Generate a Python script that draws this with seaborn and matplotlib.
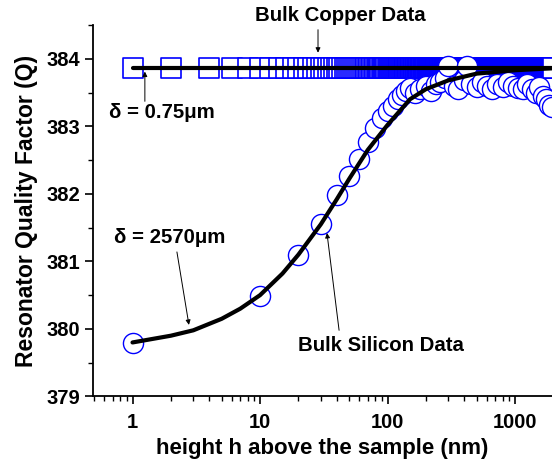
import numpy as np
import pandas as pd
import matplotlib
matplotlib.use("Agg")
import matplotlib.pyplot as plt
import seaborn as sns

# ---------------- data ----------------
# Bulk copper: measured every 2 nm (after 1, 2 nm), Q constant
copper_h = np.concatenate([[1, 2], np.arange(4, 2001, 2)])
copper_q_value = 383.86

# Bulk silicon data points
silicon_h = [1, 10, 20, 30, 40, 50, 60, 70, 80, 90, 100, 110, 120, 130, 140,
             150, 165, 180, 200, 220, 240, 260, 280, 300, 330, 360, 400, 420,
             450, 500, 550, 600, 660, 720, 800, 880, 960, 1050, 1150, 1250,
             1350, 1450, 1550, 1650, 1750, 1850, 1950]
silicon_q = [379.79, 380.49, 381.10, 381.55, 381.99, 382.27, 382.52, 382.77,
             382.97, 383.12, 383.22, 383.30, 383.40, 383.47, 383.52, 383.56,
             383.50, 383.55, 383.60, 383.53, 383.62, 383.66, 383.72, 383.90,
             383.60, 383.55, 383.68, 383.90, 383.62, 383.58, 383.65, 383.60,
             383.55, 383.62, 383.58, 383.65, 383.60, 383.57, 383.55, 383.62,
             383.55, 383.50, 383.58, 383.45, 383.40, 383.32, 383.28]

# Fit curves
fit_si_h = [1, 2, 3, 5, 7, 10, 15, 20, 30, 40, 50, 70, 100, 150, 200, 300,
            500, 1000, 2000]
fit_si_q = [379.80, 379.90, 379.98, 380.15, 380.30, 380.50, 380.82, 381.10,
            381.55, 381.92, 382.22, 382.65, 383.02, 383.40, 383.55, 383.68,
            383.78, 383.83, 383.86]
fit_cu_h = [1, 2000]
fit_cu_q = [383.86, 383.86]

y_ticks = [379, 380, 381, 382, 383, 384]
x_ticks = [1, 10, 100, 1000]
x_ticklabels = ["1", "10", "100", "1000"]

# ---------------- style ----------------
sns.set_style("ticks")
plt.rcParams['font.family'] = ['Liberation Sans', 'DejaVu Sans']
plt.rcParams['font.weight'] = 'bold'
plt.rcParams['text.color'] = 'black'
plt.rcParams['axes.labelcolor'] = 'black'

fig = plt.figure(figsize=(5.52, 4.68), dpi=100)
ax = fig.add_axes([0.1685, 0.1528, 0.8315, 0.7938])

blue = "#0000ff"
cu = pd.DataFrame({"h": copper_h, "q": copper_q_value})
si = pd.DataFrame({"h": silicon_h, "q": silicon_q})

sns.scatterplot(data=cu, x="h", y="q", marker="s", s=190, facecolor="white",
                edgecolor=blue, linewidth=1.2, ax=ax, zorder=2)
sns.scatterplot(data=si, x="h", y="q", marker="o", s=210, facecolor="white",
                edgecolor=blue, linewidth=1.0, ax=ax, zorder=3)
sns.lineplot(x=fit_si_h, y=fit_si_q, color="black", linewidth=3, ax=ax,
             zorder=4)
sns.lineplot(x=fit_cu_h, y=fit_cu_q, color="black", linewidth=3, ax=ax,
             zorder=4)

ax.set_xscale("log")
ax.set_xlim(0.49, 1950)
ax.set_ylim(379, 384.5)
ax.set_xticks(x_ticks)
ax.set_xticklabels(x_ticklabels)
ax.set_yticks(y_ticks)
ax.yaxis.set_minor_locator(matplotlib.ticker.MultipleLocator(0.5))
ax.xaxis.set_minor_locator(matplotlib.ticker.LogLocator(base=10, subs=np.arange(2, 10)))
ax.xaxis.set_minor_formatter(matplotlib.ticker.NullFormatter())

for s in ["top", "right"]:
    ax.spines[s].set_visible(False)
for s in ["left", "bottom"]:
    ax.spines[s].set_linewidth(1.3)
    ax.spines[s].set_color("black")

ax.tick_params(axis="both", which="major", direction="out", length=6,
               width=1.2, labelsize=14.5, colors="black")
ax.tick_params(axis="x", which="major", pad=6)
ax.tick_params(axis="y", which="major", pad=3)
ax.tick_params(axis="both", which="minor", direction="out", length=3.5,
               width=1.0, colors="black")
for lab in ax.get_xticklabels() + ax.get_yticklabels():
    lab.set_fontweight("bold")

ax.set_xlabel("height h above the sample (nm)", fontsize=16, fontweight="bold",
              labelpad=4, color="black")
ax.set_ylabel("Resonator Quality Factor (Q)", fontsize=16.5, fontweight="bold",
              labelpad=6, color="black")

arrow = dict(arrowstyle="-|>", color="black", lw=0.7, mutation_scale=7,
             shrinkA=0, shrinkB=0)
fs = 14.7
ax.text(42.4, 384.64, "Bulk Copper Data", ha="center", va="center",
        fontsize=fs, fontweight="bold", clip_on=False, color="black")
ax.annotate("", xy=(28.5, 384.09), xytext=(28.5, 384.43), arrowprops=arrow,
            annotation_clip=False)
ax.text(1.70, 383.20, "\u03b4 = 0.75\u03bcm", ha="center", va="center",
        fontsize=fs, fontweight="bold", color="black")
ax.annotate("", xy=(1.25, 383.81), xytext=(1.25, 383.37), arrowprops=arrow)
ax.text(1.97, 381.35, "\u03b4 = 2570\u03bcm", ha="center", va="center",
        fontsize=fs, fontweight="bold", color="black")
ax.annotate("", xy=(2.77, 380.06), xytext=(2.23, 381.14), arrowprops=arrow)
ax.text(89, 379.75, "Bulk Silicon Data", ha="center", va="center",
        fontsize=fs, fontweight="bold", color="black")
ax.annotate("", xy=(33.5, 381.42), xytext=(41.7, 379.98), arrowprops=arrow)

fig.savefig("out.png", dpi=100)
